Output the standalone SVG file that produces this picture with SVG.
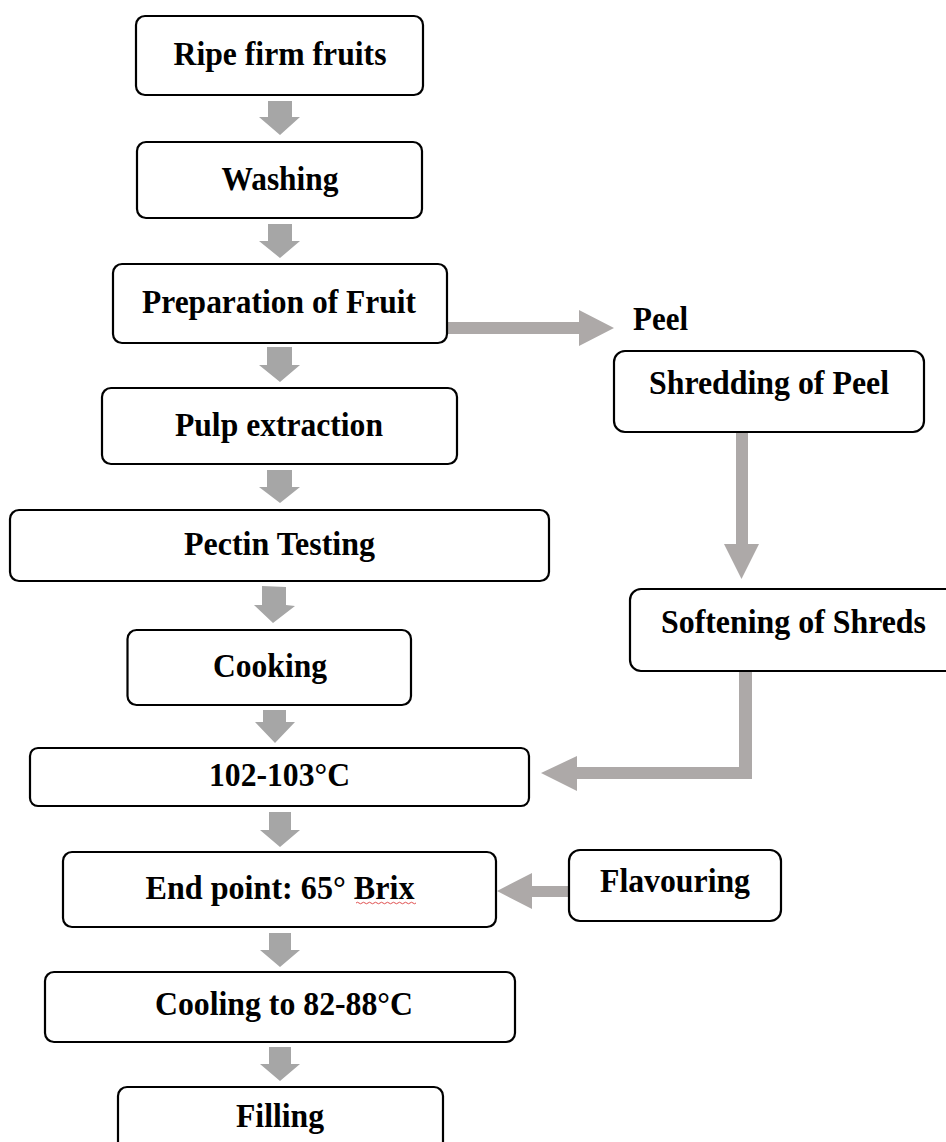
<svg xmlns="http://www.w3.org/2000/svg" width="946" height="1142" viewBox="0 0 946 1142">
<style>
.box{fill:#fff;stroke:#000;stroke-width:2.2}
.t{font-family:"Liberation Serif","Times New Roman",serif;font-weight:bold;font-size:34px;fill:#000;text-anchor:middle}
.a{fill:#A6A6A6}
.p{fill:#ADA9A8}
</style>
<rect width="946" height="1142" fill="#fff"/>
<g id="connectors">
<polygon class="a" points="268,101 292,101 292,117 300,117 280,135 259,117 268,117"/>
<polygon class="a" points="268,224 292,224 292,241 300,241 280,258 259,241 268,241"/>
<polygon class="a" points="267,347 292,347 292,365 300,365 280,382 259,365 267,365"/>
<polygon class="a" points="267,470 292,470 292,487 300,487 280,503 259,487 267,487"/>
<polygon class="a" points="262,586 286,587 286,605 295,606 273,623 254,605 262,605"/>
<polygon class="a" points="263,710 286,710 286,722 295,722 275,743 255,722 263,722"/>
<polygon class="a" points="269,812 291,812 291,830 300,830 280,847 260,830 269,830"/>
<polygon class="a" points="269,933 291,933 291,950 300,950 280,967 260,950 269,950"/>
<polygon class="a" points="269,1047 291,1047 291,1064 300,1064 280,1081 260,1064 269,1064"/>
<polygon class="p" points="447,322 579,322 579,310 614,328 579,346 579,334 447,334"/>
<polygon class="p" points="736,432 748,432 748,544 759,544 741.5,579 724,544 736,544"/>
<polygon class="p" points="739,668 752,668 752,779 577,779 577,791 541,773 577,756 577,767 739,767"/>
<polygon class="p" points="569,886 569,897 532,897 532,909 497,891 532,873 532,886"/>
</g>
<g id="n1"><rect class="box" x="136" y="16" width="287" height="79" rx="9"/><text class="t" x="280" y="65" textLength="213" lengthAdjust="spacingAndGlyphs">Ripe firm fruits</text></g>
<g id="n2"><rect class="box" x="137" y="142" width="285" height="76" rx="9"/><text class="t" x="280" y="190" textLength="117" lengthAdjust="spacingAndGlyphs">Washing</text></g>
<g id="n3"><rect class="box" x="113" y="264" width="334" height="79" rx="9"/><text class="t" x="279" y="313" textLength="274" lengthAdjust="spacingAndGlyphs">Preparation of Fruit</text></g>
<g id="n4"><rect class="box" x="102" y="388" width="355" height="76" rx="9"/><text class="t" x="279" y="436" textLength="208" lengthAdjust="spacingAndGlyphs">Pulp extraction</text></g>
<g id="n5"><rect class="box" x="10" y="510" width="539" height="71" rx="9"/><text class="t" x="279.5" y="555" textLength="191" lengthAdjust="spacingAndGlyphs">Pectin Testing</text></g>
<g id="n6"><rect class="box" x="127.5" y="630" width="283.5" height="75" rx="9"/><text class="t" x="270" y="677" textLength="114" lengthAdjust="spacingAndGlyphs">Cooking</text></g>
<g id="n7"><rect class="box" x="30" y="748" width="499" height="58" rx="8"/><text class="t" x="279.5" y="786" textLength="141" lengthAdjust="spacingAndGlyphs">102-103°C</text></g>
<g id="n8"><rect class="box" x="63" y="852" width="433" height="75" rx="9"/><text class="t" x="280" y="899" textLength="269" lengthAdjust="spacingAndGlyphs">End point: 65° Brix</text><path d="M356,903 q1.5,-1.5 3,0 t3,0 t3,0 t3,0 t3,0 t3,0 t3,0 t3,0 t3,0 t3,0 t3,0 t3,0 t3,0 t3,0 t3,0 t3,0 t3,0 t3,0 t3,0 t3,0" fill="none" stroke="#E05050" stroke-width="1"/></g>
<g id="n9"><rect class="box" x="45" y="972" width="470" height="70" rx="9"/><text class="t" x="284" y="1015" textLength="258" lengthAdjust="spacingAndGlyphs">Cooling to 82-88°C</text></g>
<g id="n10"><rect class="box" x="118" y="1087" width="325" height="80" rx="9"/><text class="t" x="280" y="1127" textLength="88" lengthAdjust="spacingAndGlyphs">Filling</text></g>
<g id="n11"><text class="t" x="660.5" y="330" textLength="55" lengthAdjust="spacingAndGlyphs">Peel</text></g>
<g id="n12"><rect class="box" x="614" y="351" width="310" height="81" rx="11"/><text class="t" x="769" y="394" textLength="240" lengthAdjust="spacingAndGlyphs">Shredding of Peel</text></g>
<g id="n13"><rect class="box" x="630" y="589" width="340" height="82" rx="11"/><text class="t" x="793.5" y="633" textLength="265" lengthAdjust="spacingAndGlyphs">Softening of Shreds</text></g>
<g id="n14"><rect class="box" x="569" y="850" width="212" height="71" rx="11"/><text class="t" x="675" y="892" textLength="150" lengthAdjust="spacingAndGlyphs">Flavouring</text></g>
</svg>
